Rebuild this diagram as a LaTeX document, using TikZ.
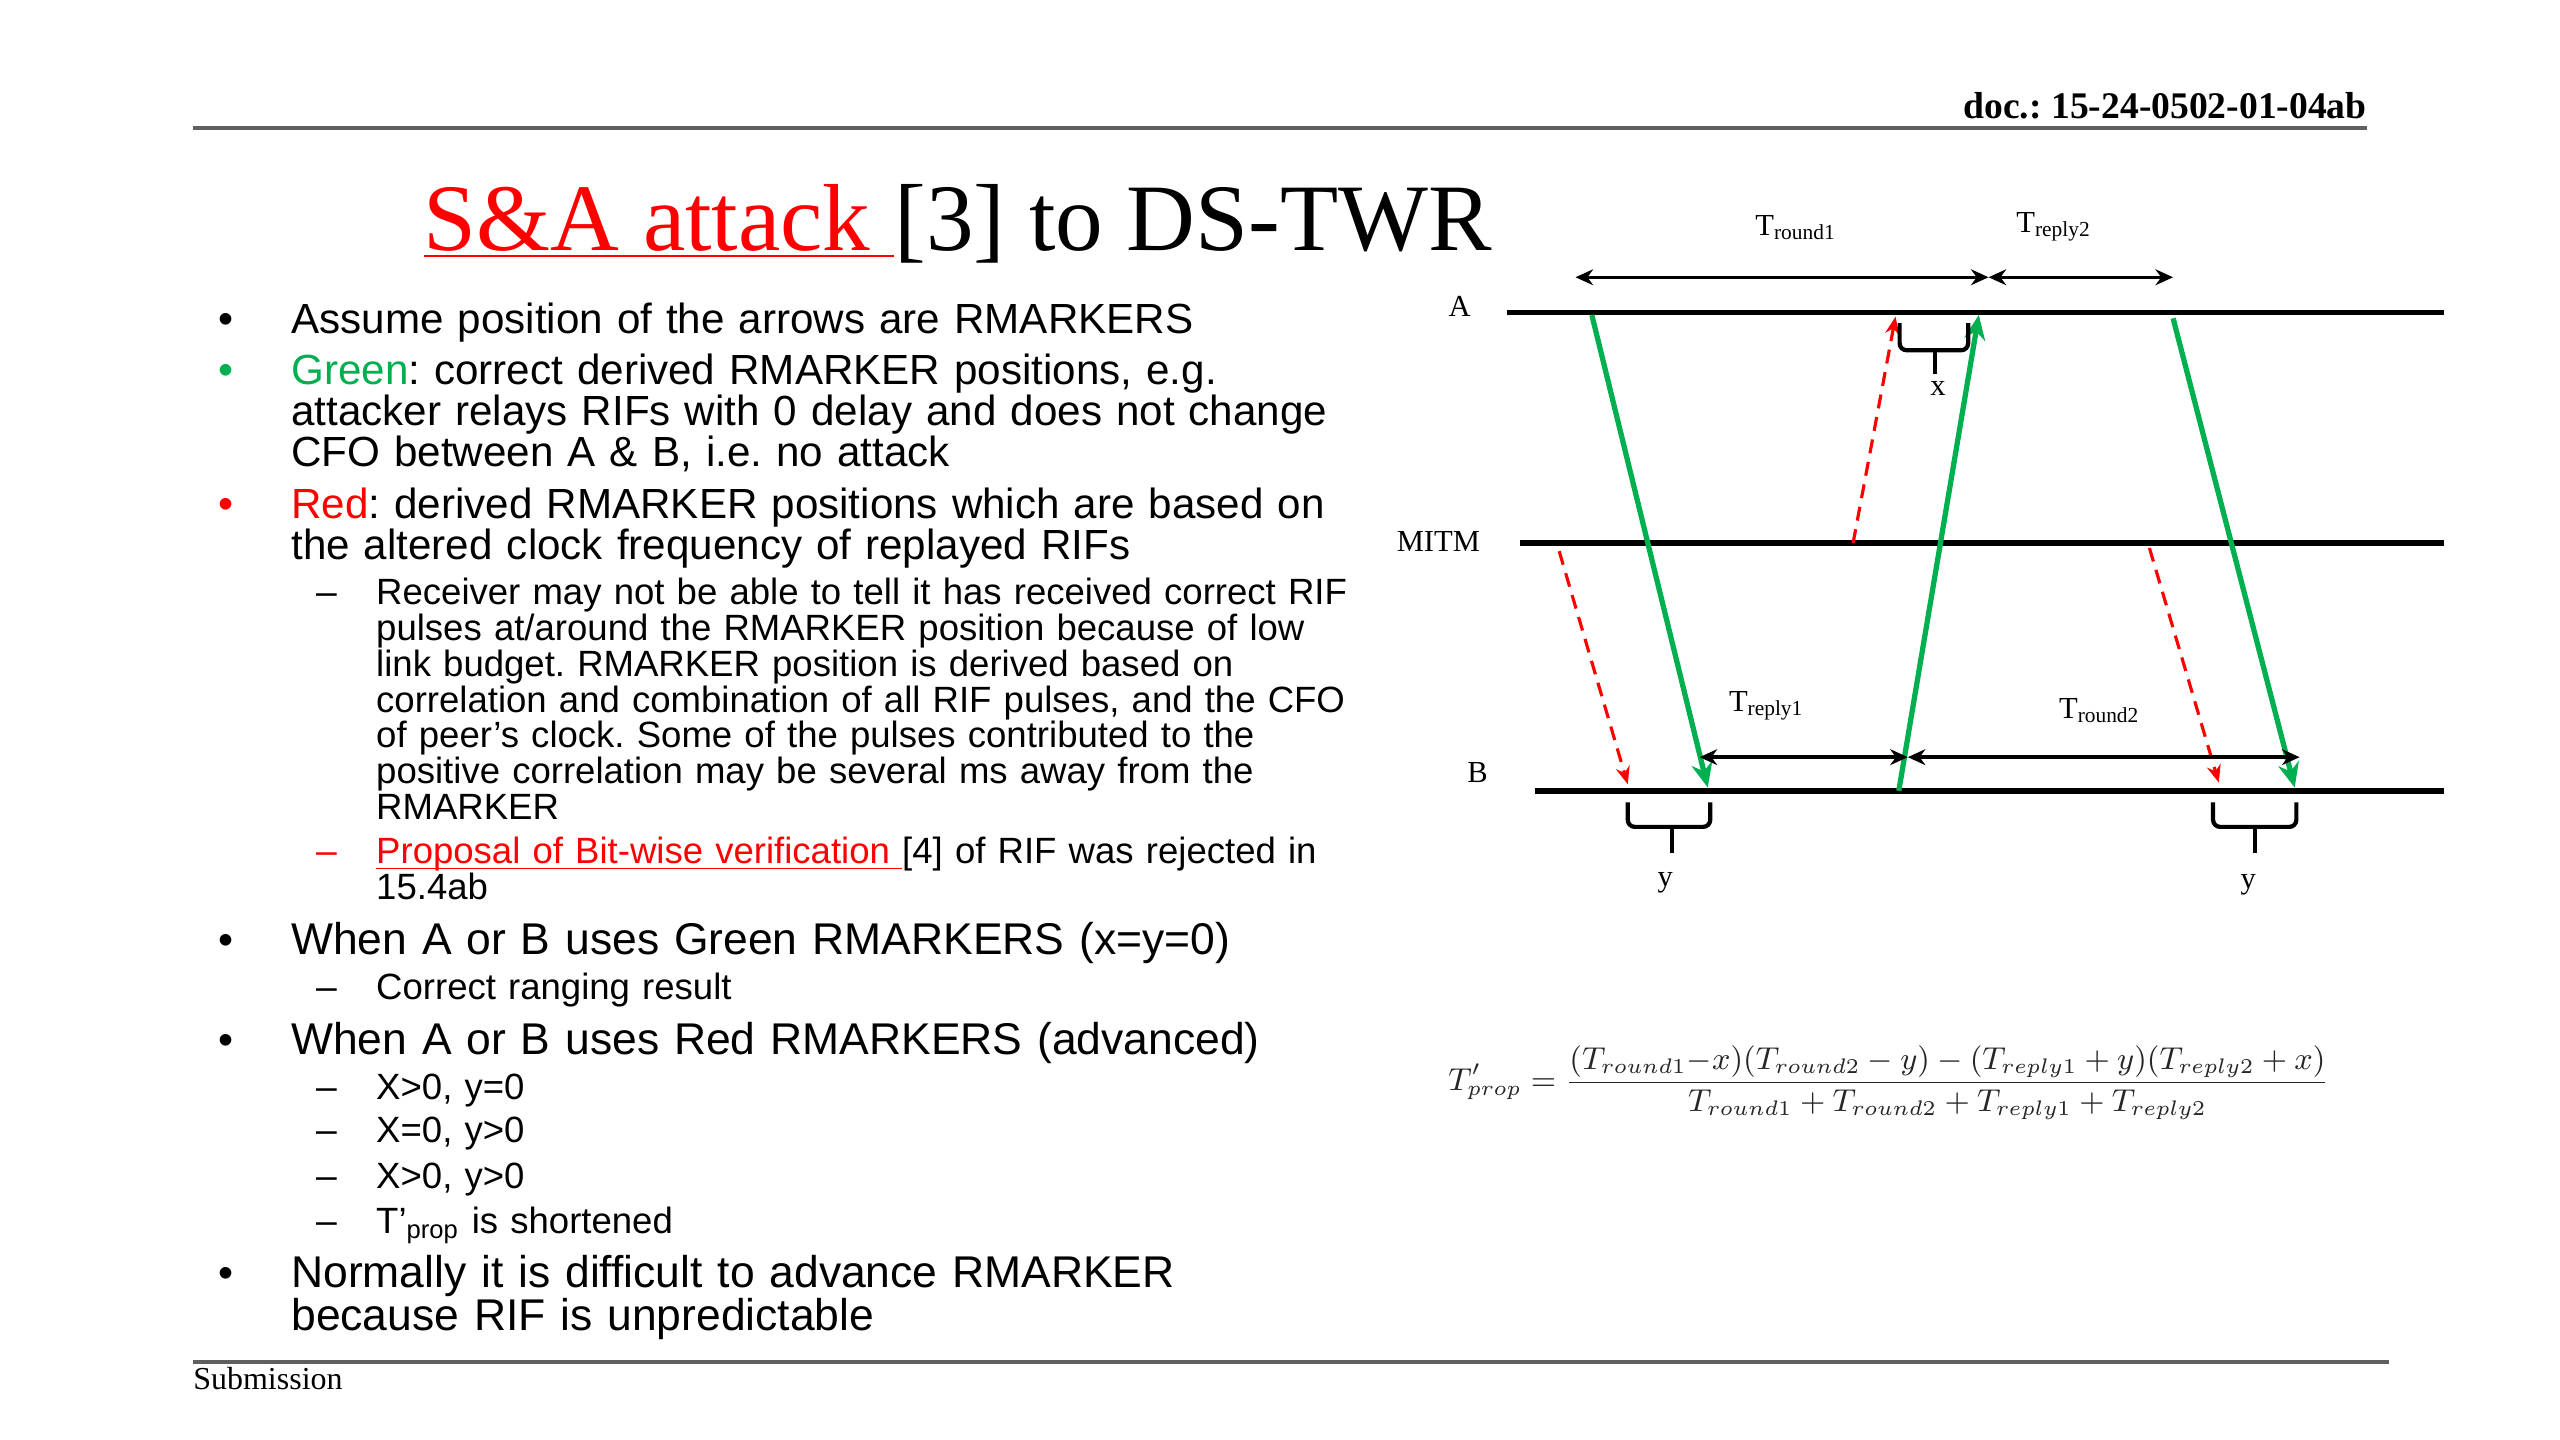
\documentclass[tikz,border=0pt]{standalone}
\usepackage{fontspec}
\setmainfont{Liberation Sans}
\newfontfamily\timesfont{Liberation Serif}
\usetikzlibrary{arrows.meta}
\definecolor{slidegreen}{RGB}{0,176,80}
\definecolor{rulegray}{RGB}{95,95,95}
\frenchspacing

\begin{document}
\begin{tikzpicture}[x=1.633cm, y=-1.641cm,
  bodyone/.style = {anchor = base west, align = left, text width = 14cm, inner sep = 0pt, font = \fontsize{12.0}{11.7}\selectfont},
  bodylow/.style = {bodyone, font = \fontsize{12.65}{12.1}\selectfont},
  bodytwo/.style = {bodyone, font = \fontsize{10.4}{10.2}\selectfont},
  bulletmark/.style = {anchor = base, inner sep = 0pt, font = \fontsize{12.2}{12}\selectfont},
  dashmark/.style = {anchor = base, inner sep = 0pt, font = \fontsize{10.6}{12}\selectfont},
  lbl/.style = {inner sep = 0pt, font = \timesfont\fontsize{8.7}{9}\selectfont},
  timeline/.style = {line width = 1.6pt},
  greenmsg/.style = {slidegreen, line width = 1.5pt, -{Stealth[length = 7pt, width = 6pt]}},
  redmsg/.style = {red, line width = 0.9pt, dash pattern = on 4pt off 2.5pt, -{Stealth[length = 5pt, width = 4pt]}},
  span/.style = {line width = 1pt, {Stealth[length = 5pt, width = 4.5pt]}-{Stealth[length = 5pt, width = 4.5pt]}},
  brace/.style = {line width = 1.2pt, rounded corners = 2pt}]
\fill [white] (0,0) rectangle (15.68,8.775);
\useasboundingbox (0,0) rectangle (15.68,8.775);

% cabecalho e rodape do slide.
\coordinate (topl) at (1.18,0.78);
\coordinate (topr) at (14.50,0.78);
\coordinate (botl) at (1.18,8.30);
\coordinate (botr) at (14.63,8.30);
\draw [rulegray, line width = 1.2pt] (topl) -- (topr);
\draw [rulegray, line width = 1.2pt] (botl) -- (botr);
\node [anchor = base east, inner sep = 0pt, font = \timesfont\bfseries\fontsize{10.7}{12}\selectfont](docid) at (14.50, 0.72){doc.: 15-24-0502-01-04ab};
\node [anchor = base west, inner sep = 0pt, font = \timesfont\fontsize{9.1}{10}\selectfont](subm) at (1.18, 8.47){Submission};
\node [anchor = base west, inner sep = 0pt, font = \timesfont\fontsize{27.1}{30}\selectfont](titulo) at (2.59, 1.525){\textcolor{red}{\underline{S\&A attack }}[3] to DS-TWR};

% textos dos itens.
\node [bulletmark](dot1) at (1.385, 2.03){•};
\node [bodyone](item1) at (1.78, 2.03){Assume position of the arrows are RMARKERS};
\node [bulletmark, slidegreen](dot2) at (1.385, 2.345){•};
\node [bodyone](item2) at (1.78, 2.345){\textcolor{slidegreen}{Green}: correct derived RMARKER positions, e.g.\\ attacker relays RIFs with 0 delay and does not change\\ CFO between A \& B, i.e. no attack};
\node [bulletmark, red](dot3) at (1.385, 3.16){•};
\node [bodyone](item3) at (1.78, 3.16){\textcolor{red}{Red}: derived RMARKER positions which are based on\\ the altered clock frequency of replayed RIFs};
\node [dashmark](dash1) at (2.00, 3.685){–};
\node [bodytwo](sub1) at (2.30, 3.685){Receiver may not be able to tell it has received correct RIF\\ pulses at/around the RMARKER position because of low\\ link budget. RMARKER position is derived based on\\ correlation and combination of all RIF pulses, and the CFO\\ of peer's clock. Some of the pulses contributed to the\\ positive correlation may be several ms away from the\\ RMARKER};
\node [dashmark, red](dash2) at (2.00, 5.265){–};
\node [bodytwo](sub2) at (2.30, 5.265){\textcolor{red}{\smash{\underline{\smash{Proposal of Bit-wise verification }}}}[4] of RIF was rejected in\\ 15.4ab};
\node [bulletmark](dot4) at (1.385, 5.82){•};
\node [bodylow](item4) at (1.78, 5.82){When A or B uses Green RMARKERS (x=y=0)};
\node [dashmark](dash3) at (2.00, 6.094){–};
\node [bodytwo](sub3) at (2.30, 6.094){Correct ranging result};
\node [bulletmark](dot5) at (1.385, 6.429){•};
\node [bodylow](item5) at (1.78, 6.429){When A or B uses Red RMARKERS (advanced)};
\node [dashmark](dash4) at (2.00, 6.699){–};
\node [bodytwo](sub4) at (2.30, 6.699){X>0, y=0};
\node [dashmark](dash5) at (2.00, 6.966){–};
\node [bodytwo](sub5) at (2.30, 6.966){X=0, y>0};
\node [dashmark](dash6) at (2.00, 7.246){–};
\node [bodytwo](sub6) at (2.30, 7.246){X>0, y>0};
\node [dashmark](dash7) at (2.00, 7.519){–};
\node [bodytwo](sub7) at (2.30, 7.519){T'\textsubscript{prop} is shortened};
\node [bulletmark](dot6) at (1.385, 7.848){•};
\node [bodylow](item6) at (1.78, 7.848){Normally it is difficult to advance RMARKER\\ because RIF is unpredictable};

% linhas do tempo A, MITM e B.
\node [lbl](labA) at (8.94, 1.87){A};
\node [lbl](labM) at (8.81, 3.30){MITM};
\node [lbl](labB) at (9.05, 4.71){B};
\coordinate (A0) at (9.23,1.905);
\coordinate (A1) at (14.97,1.905);
\coordinate (M0) at (9.31,3.31);
\coordinate (M1) at (14.97,3.31);
\coordinate (B0) at (9.40,4.82);
\coordinate (B1) at (14.97,4.82);
\draw [timeline] (A0) -- (A1);
\draw [timeline] (M0) -- (M1);
\draw [timeline] (B0) -- (B1);

% mensagens corretas (verde) e repetidas (vermelho).
\coordinate (g1s) at (9.75,1.92);
\coordinate (g1e) at (10.46,4.80);
\coordinate (g2s) at (11.63,4.82);
\coordinate (g2e) at (12.12,1.92);
\coordinate (g3s) at (13.31,1.94);
\coordinate (g3e) at (14.055,4.80);
\coordinate (r1s) at (9.55,3.36);
\coordinate (r1e) at (9.97,4.78);
\coordinate (r2s) at (11.35,3.31);
\coordinate (r2e) at (11.61,1.93);
\coordinate (r3s) at (13.165,3.34);
\coordinate (r3e) at (13.59,4.77);
\draw [redmsg] (r1s) -- (r1e);
\draw [redmsg] (r2s) -- (r2e);
\draw [redmsg] (r3s) -- (r3e);
\draw [greenmsg] (g1s) -- (g1e);
\draw [greenmsg] (g2s) -- (g2e);
\draw [greenmsg] (g3s) -- (g3e);

% intervalos de tempo.
\coordinate (t0) at (9.65,1.69);
\coordinate (t1) at (12.18,1.69);
\coordinate (t2) at (13.31,1.69);
\coordinate (b0) at (10.41,4.615);
\coordinate (b1) at (11.685,4.615);
\coordinate (b2) at (14.085,4.615);
\draw [span] (t0) -- (t1);
\draw [span] (t1) -- (t2);
\draw [span] (b0) -- (b1);
\draw [span] (b1) -- (b2);
\node [lbl](tround1) at (11.00, 1.385){T\textsubscript{round1}};
\node [lbl](treply2) at (12.58, 1.38){T\textsubscript{reply2}};
\node [lbl](treply1) at (10.82, 4.30){T\textsubscript{reply1}};
\node [lbl](tround2) at (12.86, 4.33){T\textsubscript{round2}};

% chaves x e y.
\draw [brace] (11.635,1.97) -- (11.635,2.135) -- (12.055,2.135) -- (12.055,1.97);
\draw [brace] (11.85,2.135) -- (11.85,2.28);
\node [lbl](labx) at (11.87, 2.37){x};
\draw [brace] (9.97,4.89) -- (9.97,5.04) -- (10.475,5.04) -- (10.475,4.89);
\draw [brace] (10.24,5.04) -- (10.24,5.20);
\node [lbl](laby1) at (10.20, 5.38){y};
\draw [brace] (13.555,4.89) -- (13.555,5.04) -- (14.065,5.04) -- (14.065,4.89);
\draw [brace] (13.81,5.04) -- (13.81,5.20);
\node [lbl](laby2) at (13.77, 5.39){y};

% formula de T'prop.
\node [inner sep = 0pt, black!85, font = \fontsize{9.05}{11}\selectfont](tprop) at (11.57, 6.60){$\displaystyle T'_{prop} = \frac{(T_{round1}{-}x)(T_{round2}-y)-(T_{reply1}+y)(T_{reply2}+x)}{T_{round1}+T_{round2}+T_{reply1}+T_{reply2}}$};

\end{tikzpicture}
\end{document}
